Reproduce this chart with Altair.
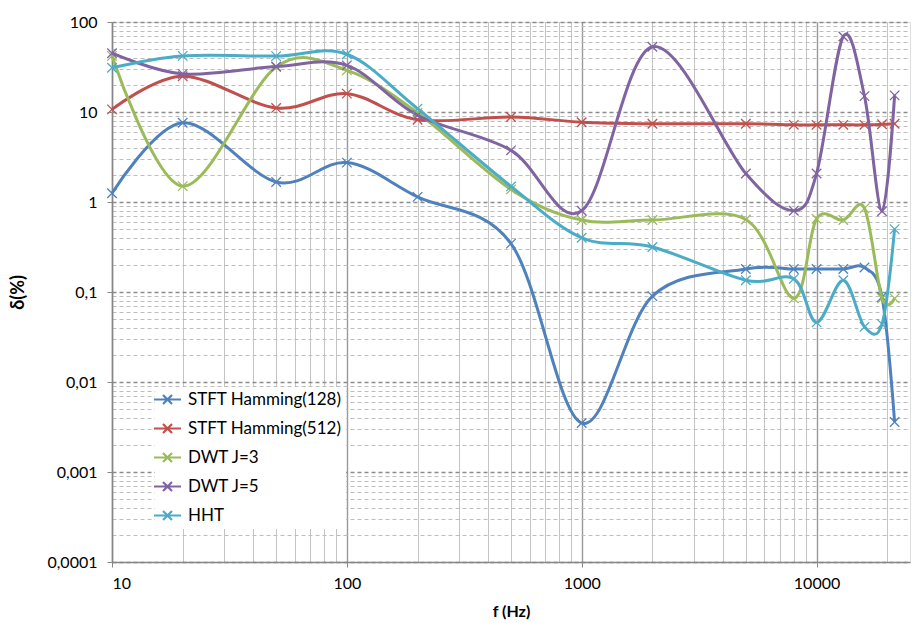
import altair as alt
import pandas as pd

freq = [10, 20, 50, 100, 200, 500, 1000, 2000, 5000, 8000, 10000, 13000, 16000, 19000, 21500]
series_names = ["STFT Hamming(128)", "STFT Hamming(512)", "DWT J=3", "DWT J=5", "HHT"]
stft128 = [1.25, 7.6, 1.67, 2.74, 1.14, 0.345, 0.0035, 0.09, 0.18, 0.18, 0.18, 0.18, 0.187, 0.088, 0.0036]
stft512 = [10.7, 25, 11.1, 16, 8.2, 8.8, 7.7, 7.4, 7.4, 7.2, 7.2, 7.2, 7.2, 7.3, 7.4]
dwt3 = [42, 1.5, 31.6, 29, 9.8, 1.38, 0.63, 0.63, 0.64, 0.085, 0.65, 0.63, 0.85, 0.085, 0.085]
dwt5 = [45, 26.5, 32, 33, 9.2, 3.75, 0.8, 53, 2.07, 0.8, 2.07, 69, 15, 0.79, 15.3]
hht = [31, 42, 41.8, 43.8, 10.9, 1.49, 0.4, 0.316, 0.135, 0.14, 0.046, 0.135, 0.041, 0.044, 0.5]
colors = ["#4F81BD", "#C0504D", "#9BBB59", "#8064A2", "#4BACC6"]

x_grid = [m * 10 ** e for e in range(1, 5) for m in range(1, 10)] + [20000]
y_grid = [m * 10.0 ** e for e in range(-4, 2) for m in range(1, 10)] + [100]

rows = []
for name, vals in zip(series_names, [stft128, stft512, dwt3, dwt5, hht]):
    for i, (f, v) in enumerate(zip(freq, vals)):
        rows.append({"series": name, "f": f, "d": v, "i": i})
df = pd.DataFrame(rows)

FONT = "Lato"
DEC = "abs(log(datum.value)/LN10 - round(log(datum.value)/LN10)) < 0.001"

x_enc = alt.X(
    "f:Q",
    scale=alt.Scale(type="log", domain=[10, 25000], nice=False),
    axis=alt.Axis(
        values=x_grid,
        labelExpr=f"({DEC}) ? format(datum.value, 'd') : ''",
        labelOverlap=False,
        labelFont=FONT, labelFontSize=16, labelColor="#000000", labelPadding=8,
        title="f (Hz)", titleFont=FONT, titleFontSize=16, titleFontWeight="bold",
        titleColor="#000000", titlePadding=12,
        grid=True,
        gridColor={"condition": {"test": DEC, "value": "#999999"}, "value": "#c4c4c4"},
        gridWidth={"condition": {"test": DEC, "value": 1.4}, "value": 1},
        domainColor="#868686", domainWidth=1.5,
        tickColor="#868686", tickSize=5,
        tickOpacity={"condition": {"test": DEC, "value": 1}, "value": 0},
    ),
)
y_enc = alt.Y(
    "d:Q",
    scale=alt.Scale(type="log", domain=[0.0001, 100], nice=False),
    axis=alt.Axis(
        values=y_grid,
        labelExpr=f"({DEC}) ? replace(format(datum.value, '~g'), '.', ',') : ''",
        labelOverlap=False,
        labelFont=FONT, labelFontSize=16, labelColor="#000000", labelPadding=10,
        title="δ(%)", titleFont=FONT, titleFontSize=18, titleFontWeight="bold",
        titleColor="#000000", titlePadding=19,
        grid=True,
        gridColor={"condition": {"test": DEC, "value": "#8c8c8c"}, "value": "#bdbdbd"},
        gridDash=[4, 3],
        gridWidth={"condition": {"test": DEC, "value": 1.3}, "value": 1},
        domainColor="#868686", domainWidth=1.5,
        tickColor="#868686", tickSize=5,
        tickOpacity={"condition": {"test": DEC, "value": 1}, "value": 0},
    ),
)

color_enc = alt.Color(
    "series:N",
    scale=alt.Scale(domain=series_names, range=colors),
    legend=alt.Legend(
        orient="none", legendX=43, legendY=365, title=None,
        fillColor="white", padding=4,
        symbolType="M-2.7,0H2.7M-0.9,-0.9L0.9,0.9M-0.9,0.9L0.9,-0.9",
        symbolSize=100, symbolStrokeWidth=2.2, symbolFillColor="transparent",
        labelFont=FONT, labelFontSize=17, labelColor="#000000",
        labelOffset=12, rowPadding=10, offset=0,
    ),
)

layers = []
for name in series_names:
    sub = df[df["series"] == name]
    line = alt.Chart(sub).mark_line(
        interpolate="cardinal", tension=0, strokeWidth=3
    ).encode(x=x_enc, y=y_enc, color=color_enc, order="i:Q")
    pts = alt.Chart(sub).mark_point(
        shape="M-1,-1L1,1M-1,1L1,-1", size=90, filled=False, strokeWidth=1.3, opacity=1
    ).encode(x=x_enc, y=y_enc, color=color_enc)
    layers += [line, pts]

chart = alt.layer(*layers).properties(
    width=798, height=540,
    autosize=alt.AutoSizeParams(type="none"),
    padding={"left": 112, "top": 22, "right": 6, "bottom": 61},
).configure_view(stroke=None).configure(background="white")

chart.save("out.html", embed_options={"renderer": "svg", "actions": False})
